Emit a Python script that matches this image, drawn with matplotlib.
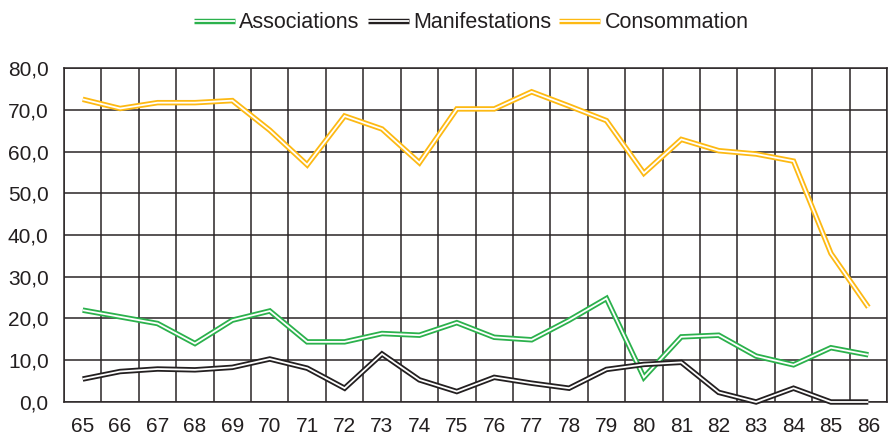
import matplotlib
matplotlib.use("Agg")
import matplotlib.pyplot as plt
import matplotlib.patheffects as pe
import numpy as np

annees = ['65', '66', '67', '68', '69', '70', '71', '72', '73', '74', '75',
          '76', '77', '78', '79', '80', '81', '82', '83', '84', '85', '86']

associations = [22.0, 20.4, 18.8, 14.0, 19.6, 21.8, 14.4, 14.4, 16.4, 16.0, 19.0,
                15.5, 14.9, 19.6, 24.8, 5.9, 15.6, 16.0, 11.0, 8.9, 13.0, 11.3]
manifestations = [5.5, 7.3, 7.9, 7.7, 8.3, 10.3, 8.1, 3.3, 11.5, 5.3, 2.5,
                  5.9, 4.5, 3.3, 7.8, 9.0, 9.5, 2.3, 0.0, 3.3, 0.0, 0.0]
consommation = [72.5, 70.3, 71.7, 71.7, 72.2, 65.1, 56.8, 68.5, 65.4, 57.3, 70.2,
                70.2, 74.3, 70.9, 67.4, 54.8, 62.9, 60.2, 59.4, 57.7, 35.6, 22.7]

series = [('Associations', associations, '#2bb14c'),
          ('Manifestations', manifestations, '#231f20'),
          ('Consommation', consommation, '#fdb913')]

plt.rcParams['font.family'] = ['Liberation Sans', 'DejaVu Sans']

fig = plt.figure(figsize=(8.89, 4.36), dpi=100)
ax = fig.add_axes([0.072, 0.078, 0.9258, 0.766])

x = np.arange(len(annees))
for nom, vals, coul in series:
    # double line: thick coloured stroke with a thin white core
    ax.plot(x, vals, color='white', lw=1.3, label=nom, solid_joinstyle='miter',
            solid_capstyle='butt',
            path_effects=[pe.Stroke(linewidth=3.9, foreground=coul), pe.Normal()],
            clip_on=False, zorder=3)

ax.set_xlim(-0.5, len(annees) - 0.5)
ax.set_ylim(0, 80)
ax.set_xticks(x)
ax.set_xticklabels(annees)
ax.set_yticks(np.arange(0, 81, 10))
ax.set_yticklabels([f'{v:.1f}'.replace('.', ',') for v in np.arange(0, 81, 10)])

# vertical grid between categories
for xv in np.arange(-0.5, len(annees), 1.0):
    ax.axvline(xv, color='#2a2526', lw=1.1, zorder=1)
for yv in np.arange(0, 81, 10):
    ax.axhline(yv, color='#2a2526', lw=1.1, zorder=1)

for s in ax.spines.values():
    s.set_color('#2a2526')
    s.set_linewidth(1.1)
ax.tick_params(length=0, labelsize=15, colors='#231f20')
ax.tick_params(axis='x', pad=11)
ax.tick_params(axis='y', pad=11)

fig.legend(loc='center', bbox_to_anchor=(0.530, 0.948), ncol=3, frameon=False,
           fontsize=15.5, handlelength=1.9, handletextpad=0.2, columnspacing=0.38,
           labelcolor='#231f20')

fig.savefig('out.png', dpi=100)
